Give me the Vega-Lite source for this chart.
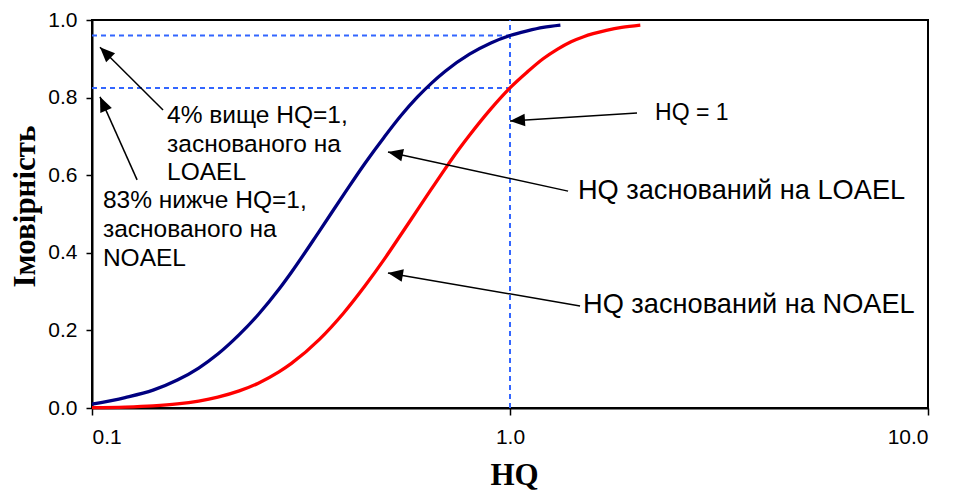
{
  "$schema": "https://vega.github.io/schema/vega-lite/v6.json",
  "width": 836,
  "height": 388,
  "autosize": {"type": "none"},
  "padding": {"left": 92, "top": 20, "right": 27, "bottom": 82},
  "background": "white",
  "config": {
    "view": {"stroke": "#000000", "strokeWidth": 2},
    "axis": {
      "grid": false,
      "domainColor": "#000000",
      "domainWidth": 2,
      "tickColor": "#000000",
      "tickWidth": 1.5,
      "labelFont": "Liberation Sans",
      "labelFontSize": 21,
      "labelColor": "#000000",
      "titleFont": "Liberation Serif",
      "titleFontWeight": "bold",
      "titleFontSize": 31,
      "titleColor": "#000000"
    }
  },
  "datasets": {
    "curves": [
      {"x": 0.1, "y": 0.010, "series": "LOAEL"},
      {"x": 0.12, "y": 0.027, "series": "LOAEL"},
      {"x": 0.14, "y": 0.046, "series": "LOAEL"},
      {"x": 0.16, "y": 0.072, "series": "LOAEL"},
      {"x": 0.18, "y": 0.103, "series": "LOAEL"},
      {"x": 0.2, "y": 0.139, "series": "LOAEL"},
      {"x": 0.225, "y": 0.189, "series": "LOAEL"},
      {"x": 0.25, "y": 0.241, "series": "LOAEL"},
      {"x": 0.28, "y": 0.306, "series": "LOAEL"},
      {"x": 0.3, "y": 0.350, "series": "LOAEL"},
      {"x": 0.35, "y": 0.456, "series": "LOAEL"},
      {"x": 0.4, "y": 0.550, "series": "LOAEL"},
      {"x": 0.45, "y": 0.631, "series": "LOAEL"},
      {"x": 0.5, "y": 0.698, "series": "LOAEL"},
      {"x": 0.55, "y": 0.755, "series": "LOAEL"},
      {"x": 0.6, "y": 0.801, "series": "LOAEL"},
      {"x": 0.65, "y": 0.838, "series": "LOAEL"},
      {"x": 0.7, "y": 0.868, "series": "LOAEL"},
      {"x": 0.8, "y": 0.912, "series": "LOAEL"},
      {"x": 0.9, "y": 0.941, "series": "LOAEL"},
      {"x": 1.0, "y": 0.960, "series": "LOAEL"},
      {"x": 1.1, "y": 0.972, "series": "LOAEL"},
      {"x": 1.2, "y": 0.981, "series": "LOAEL"},
      {"x": 1.32, "y": 0.987, "series": "LOAEL"},
      {"x": 0.1, "y": 0.001, "series": "NOAEL"},
      {"x": 0.12, "y": 0.0025, "series": "NOAEL"},
      {"x": 0.14, "y": 0.0055, "series": "NOAEL"},
      {"x": 0.16, "y": 0.0105, "series": "NOAEL"},
      {"x": 0.18, "y": 0.018, "series": "NOAEL"},
      {"x": 0.2, "y": 0.028, "series": "NOAEL"},
      {"x": 0.225, "y": 0.044, "series": "NOAEL"},
      {"x": 0.25, "y": 0.064, "series": "NOAEL"},
      {"x": 0.28, "y": 0.093, "series": "NOAEL"},
      {"x": 0.3, "y": 0.115, "series": "NOAEL"},
      {"x": 0.35, "y": 0.177, "series": "NOAEL"},
      {"x": 0.4, "y": 0.245, "series": "NOAEL"},
      {"x": 0.45, "y": 0.315, "series": "NOAEL"},
      {"x": 0.5, "y": 0.383, "series": "NOAEL"},
      {"x": 0.55, "y": 0.449, "series": "NOAEL"},
      {"x": 0.6, "y": 0.510, "series": "NOAEL"},
      {"x": 0.65, "y": 0.566, "series": "NOAEL"},
      {"x": 0.7, "y": 0.617, "series": "NOAEL"},
      {"x": 0.75, "y": 0.663, "series": "NOAEL"},
      {"x": 0.8, "y": 0.703, "series": "NOAEL"},
      {"x": 0.9, "y": 0.771, "series": "NOAEL"},
      {"x": 1.0, "y": 0.825, "series": "NOAEL"},
      {"x": 1.1, "y": 0.866, "series": "NOAEL"},
      {"x": 1.2, "y": 0.900, "series": "NOAEL"},
      {"x": 1.3, "y": 0.925, "series": "NOAEL"},
      {"x": 1.4, "y": 0.944, "series": "NOAEL"},
      {"x": 1.5, "y": 0.957, "series": "NOAEL"},
      {"x": 1.7, "y": 0.973, "series": "NOAEL"},
      {"x": 1.85, "y": 0.981, "series": "NOAEL"},
      {"x": 2.05, "y": 0.987, "series": "NOAEL"}
    ],
    "dashed": [
      {"x": 0.1, "y": 0.96, "x2": 1.0, "y2": 0.96},
      {"x": 0.1, "y": 0.825, "x2": 1.0, "y2": 0.825},
      {"x": 1.0, "y": 0.0, "x2": 1.0, "y2": 1.0}
    ],
    "arrows": [
      {"x": 0.1045, "y": 0.930, "x2": 0.1479, "y2": 0.768, "angle": -45},
      {"x": 0.1045, "y": 0.802, "x2": 0.1282, "y2": 0.588, "angle": -24},
      {"x": 1.0, "y": 0.740, "x2": 2.013, "y2": 0.760, "angle": -93.6},
      {"x": 0.5106, "y": 0.660, "x2": 1.377, "y2": 0.559, "angle": -77.8},
      {"x": 0.5106, "y": 0.348, "x2": 1.471, "y2": 0.263, "angle": -80.2}
    ],
    "notesLeft": [
      {"x": 0.1512, "y": 0.7345, "text": "4% вище HQ=1,"},
      {"x": 0.1512, "y": 0.660, "text": "заснованого на"},
      {"x": 0.1512, "y": 0.5876, "text": "LOAEL"},
      {"x": 0.1062, "y": 0.5155, "text": "83% нижче HQ=1,"},
      {"x": 0.1062, "y": 0.4407, "text": "заснованого на"},
      {"x": 0.1062, "y": 0.366, "text": "NOAEL"}
    ],
    "noteHQ": [
      {"x": 2.223, "y": 0.742, "text": "HQ = 1"}
    ],
    "notesRight": [
      {"x": 1.454, "y": 0.5387, "text": "HQ заснований на LOAEL"},
      {"x": 1.495, "y": 0.2448, "text": "HQ заснований на NOAEL"}
    ]
  },
  "encoding": {
    "x": {
      "field": "x",
      "type": "quantitative",
      "scale": {"type": "log", "domain": [0.1, 10], "nice": false},
      "axis": {
        "title": "HQ",
        "values": [0.1, 1, 10],
        "format": ".1f",
        "tickSize": 7,
        "labelPadding": 11,
        "titleX": 422,
        "titleY": 76,
        "titleBaseline": "alphabetic",
        "titleAlign": "center"
      }
    },
    "y": {
      "field": "y",
      "type": "quantitative",
      "scale": {"domain": [0, 1], "nice": false},
      "axis": {
        "title": "Імовірність",
        "values": [0, 0.2, 0.4, 0.6, 0.8, 1.0],
        "format": ".1f",
        "tickSize": 6,
        "labelPadding": 9,
        "titleAngle": -90,
        "titleX": -67,
        "titleY": 186,
        "titleAlign": "center",
        "titleBaseline": "middle"
      }
    }
  },
  "layer": [
    {
      "data": {"name": "dashed"},
      "mark": {"type": "rule", "color": "#3366ff", "strokeWidth": 2, "strokeDash": [5, 4]},
      "encoding": {
        "x2": {"field": "x2"},
        "y2": {"field": "y2"}
      }
    },
    {
      "data": {"name": "curves"},
      "mark": {"type": "line", "strokeWidth": 3.3, "interpolate": "monotone"},
      "encoding": {
        "color": {
          "field": "series",
          "type": "nominal",
          "scale": {"domain": ["LOAEL", "NOAEL"], "range": ["#000080", "#ff0000"]},
          "legend": null
        }
      }
    },
    {
      "data": {"name": "arrows"},
      "mark": {"type": "rule", "color": "#000000", "strokeWidth": 1.5},
      "encoding": {
        "x2": {"field": "x2"},
        "y2": {"field": "y2"}
      }
    },
    {
      "data": {"name": "arrows"},
      "mark": {"type": "point", "shape": "M0,0L-0.42,1L0.42,1Z", "filled": true, "color": "#000000", "opacity": 1, "size": 900, "strokeWidth": 0},
      "encoding": {
        "angle": {"field": "angle", "type": "quantitative", "scale": null}
      }
    },
    {
      "data": {"name": "notesLeft"},
      "mark": {"type": "text", "align": "left", "baseline": "alphabetic", "font": "Liberation Sans", "fontSize": 24.5, "color": "#000000"},
      "encoding": {
        "text": {"field": "text", "type": "nominal"}
      }
    },
    {
      "data": {"name": "noteHQ"},
      "mark": {"type": "text", "align": "left", "baseline": "alphabetic", "font": "Liberation Sans", "fontSize": 23, "color": "#000000"},
      "encoding": {
        "text": {"field": "text", "type": "nominal"}
      }
    },
    {
      "data": {"name": "notesRight"},
      "mark": {"type": "text", "align": "left", "baseline": "alphabetic", "font": "Liberation Sans", "fontSize": 27.2, "color": "#000000"},
      "encoding": {
        "text": {"field": "text", "type": "nominal"}
      }
    }
  ]
}
